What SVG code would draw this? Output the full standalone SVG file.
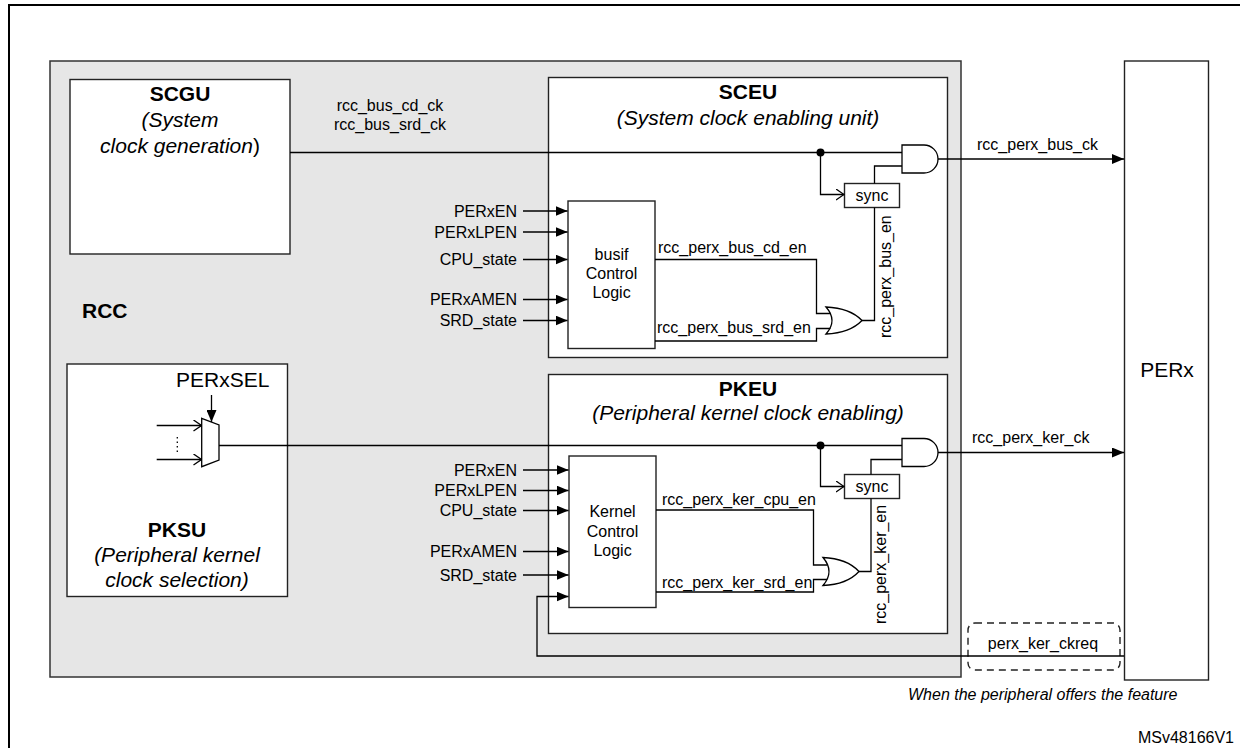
<svg xmlns="http://www.w3.org/2000/svg" width="1240" height="748" viewBox="0 0 1240 748">
<style>
text{font-family:"Liberation Sans",Arial,sans-serif;fill:#000}
.t16{font-size:16px}
.t21{font-size:21px}
.b21{font-size:21px;font-weight:bold}
.i21{font-size:21px;font-style:italic}
.i16{font-size:16px;font-style:italic}
.mid{text-anchor:middle}
.end{text-anchor:end}
.box{fill:#fff;stroke:#222;stroke-width:1.4}
.gate{fill:#fff;stroke:#000;stroke-width:1.3}
.w{fill:none;stroke:#000;stroke-width:1.3}
.arr{fill:none;stroke:#000;stroke-width:1.3;marker-end:url(#fa)}
.oarr{fill:none;stroke:#000;stroke-width:1.3;marker-end:url(#oa)}
</style>
<defs>
<marker id="fa" viewBox="0 0 12 10" refX="12" refY="5" markerWidth="12" markerHeight="10" markerUnits="userSpaceOnUse" orient="auto">
<path d="M0,0 L12,5 L0,10 z" fill="#000"/>
</marker>
<marker id="oa" viewBox="0 0 9 12" refX="8.5" refY="6" markerWidth="9" markerHeight="12" markerUnits="userSpaceOnUse" orient="auto">
<path d="M0.5,0.5 L8.5,6 L0.5,11.5" fill="none" stroke="#000" stroke-width="1.3"/>
</marker>
</defs>
<rect width="1240" height="748" fill="#fff"/>
<path d="M9,748 V5 H1240" fill="none" stroke="#000" stroke-width="2"/>

<g id="rcc">
<rect x="50" y="61" width="911" height="616" fill="#e6e6e6" stroke="#333" stroke-width="1.5"/>
<text class="b21" x="82" y="318">RCC</text>
</g>

<g id="scgu">
<rect class="box" x="70" y="79.5" width="220" height="174.5"/>
<text class="b21 mid" x="180" y="101">SCGU</text>
<text class="i21 mid" x="180" y="127">(System</text>
<text class="i21 mid" x="180" y="153">clock generation<tspan font-style="normal">)</tspan></text>
</g>

<g id="pksu">
<rect class="box" x="67" y="364" width="220.5" height="232.5"/>
<text class="t21" x="176" y="387">PERxSEL</text>
<polygon class="gate" points="201.7,418.3 219,425 219,460 201.7,466.7"/>
<line x1="177.3" y1="437" x2="177.3" y2="454" stroke="#000" stroke-width="1.3" stroke-dasharray="1.5,3"/>
<text class="b21 mid" x="177" y="537">PKSU</text>
<text class="i21 mid" x="177" y="562">(Peripheral kernel</text>
<text class="i21 mid" x="177" y="587">clock selection)</text>
</g>

<g id="sceu">
<rect class="box" x="548.5" y="77.5" width="399" height="280"/>
<text class="b21 mid" x="748" y="99">SCEU</text>
<text class="i21 mid" x="748" y="125">(System clock enabling unit)</text>
</g>

<g id="busif">
<rect class="box" x="568" y="201" width="87" height="147.5"/>
<text class="t16 mid" x="611.5" y="260">busif</text>
<text class="t16 mid" x="611.5" y="279">Control</text>
<text class="t16 mid" x="611.5" y="298">Logic</text>
</g>

<g id="sync1">
<rect class="box" x="844.5" y="183.5" width="55" height="24"/>
<text class="t16 mid" x="872" y="201">sync</text>
</g>

<g id="and1">
<path class="gate" d="M902,145 H924 A14,14 0 0 1 924,173 H902 Z"/>
</g>

<g id="or1">
<path class="gate" d="M826,307 Q838,320.5 826,334 Q850,333 862,320.5 Q850,308 826,307 Z"/>
</g>

<g id="pkeu">
<rect class="box" x="548.5" y="374.5" width="399" height="259"/>
<text class="b21 mid" x="748" y="396">PKEU</text>
<text class="i21 mid" x="748" y="420">(Peripheral kernel clock enabling)</text>
</g>

<g id="kernel">
<rect class="box" x="569" y="456" width="87" height="151.5"/>
<text class="t16 mid" x="612.5" y="517">Kernel</text>
<text class="t16 mid" x="612.5" y="537">Control</text>
<text class="t16 mid" x="612.5" y="556">Logic</text>
</g>

<g id="sync2">
<rect class="box" x="844.5" y="474.5" width="55" height="24"/>
<text class="t16 mid" x="872" y="492">sync</text>
</g>

<g id="and2">
<path class="gate" d="M902,438.5 H924 A14,14 0 0 1 924,466.5 H902 Z"/>
</g>

<g id="or2">
<path class="gate" d="M823,557.5 Q835,571.5 823,585.5 Q847,584.5 859,571.5 Q847,558.5 823,557.5 Z"/>
</g>

<g id="perx">
<rect class="box" x="1124.5" y="61" width="84" height="619"/>
<text class="t21 mid" x="1167" y="377">PERx</text>
</g>

<g id="ckreq">
<rect x="968" y="623" width="152" height="47" rx="7" fill="none" stroke="#222" stroke-width="1.4" stroke-dasharray="7,5"/>
<text class="t16 mid" x="1043" y="649">perx_ker_ckreq</text>
</g>

<g id="connectors">
<!-- SCEU -->
<path class="w" d="M290,152.5 H902"/>
<circle cx="820.5" cy="152.5" r="4" fill="#000"/>
<path class="oarr" d="M820.5,152.5 V194.5 H844"/>
<path class="w" d="M874.5,183.5 V166 H902"/>
<path class="w" d="M862,320.5 H874.5 V207.5"/>
<path class="w" d="M655,259.5 H816.5 V313.5 H830.5"/>
<path class="w" d="M655,341 H816.5 V328.5 H830.5"/>
<path class="arr" d="M938,159 H1124"/>
<path class="arr" d="M523,211 H567.5"/>
<path class="arr" d="M523,232 H567.5"/>
<path class="arr" d="M523,259.5 H567.5"/>
<path class="arr" d="M523,299.5 H567.5"/>
<path class="arr" d="M523,320.5 H567.5"/>
<!-- PKSU mux -->
<path class="arr" d="M211.5,395 V422"/>
<path class="oarr" d="M156.7,425.5 H201.5"/>
<path class="oarr" d="M156.7,459.5 H201.5"/>
<!-- PKEU -->
<path class="w" d="M219,445.5 H902"/>
<circle cx="820.5" cy="445.5" r="4" fill="#000"/>
<path class="oarr" d="M820.5,445.5 V486.5 H844"/>
<path class="w" d="M871,474.5 V459.5 H902"/>
<path class="w" d="M859,571.5 H871 V498.5"/>
<path class="w" d="M656,510 H813.5 V565 H827"/>
<path class="w" d="M656,592 H813.5 V579.5 H827"/>
<path class="arr" d="M938,452.5 H1124"/>
<path class="arr" d="M523,470 H568.5"/>
<path class="arr" d="M523,490.5 H568.5"/>
<path class="arr" d="M523,510.5 H568.5"/>
<path class="arr" d="M523,551.5 H568.5"/>
<path class="arr" d="M523,575 H568.5"/>
<path class="arr" d="M1124,656 H537 V596.5 H568.5"/>
</g>

<g id="labels">
<text class="t16 mid" x="390" y="111">rcc_bus_cd_ck</text>
<text class="t16 mid" x="390" y="130">rcc_bus_srd_ck</text>
<text class="t16 end" x="517" y="216.5">PERxEN</text>
<text class="t16 end" x="517" y="237.5">PERxLPEN</text>
<text class="t16 end" x="517" y="265">CPU_state</text>
<text class="t16 end" x="517" y="305">PERxAMEN</text>
<text class="t16 end" x="517" y="326">SRD_state</text>
<text class="t16" x="658" y="253">rcc_perx_bus_cd_en</text>
<text class="t16" x="657" y="333">rcc_perx_bus_srd_en</text>
<text class="t16" transform="translate(891,338) rotate(-90)">rcc_perx_bus_en</text>
<text class="t16" x="977" y="150">rcc_perx_bus_ck</text>
<text class="t16 end" x="517" y="475.5">PERxEN</text>
<text class="t16 end" x="517" y="496">PERxLPEN</text>
<text class="t16 end" x="517" y="516">CPU_state</text>
<text class="t16 end" x="517" y="557">PERxAMEN</text>
<text class="t16 end" x="517" y="580.5">SRD_state</text>
<text class="t16" x="662" y="505">rcc_perx_ker_cpu_en</text>
<text class="t16" x="662" y="588">rcc_perx_ker_srd_en</text>
<text class="t16" transform="translate(886,624) rotate(-90)">rcc_perx_ker_en</text>
<text class="t16" x="972" y="443">rcc_perx_ker_ck</text>
<text class="i16" x="908" y="700">When the peripheral offers the feature</text>
<text class="t16 end" x="1234" y="743">MSv48166V1</text>
</g>
</svg>
